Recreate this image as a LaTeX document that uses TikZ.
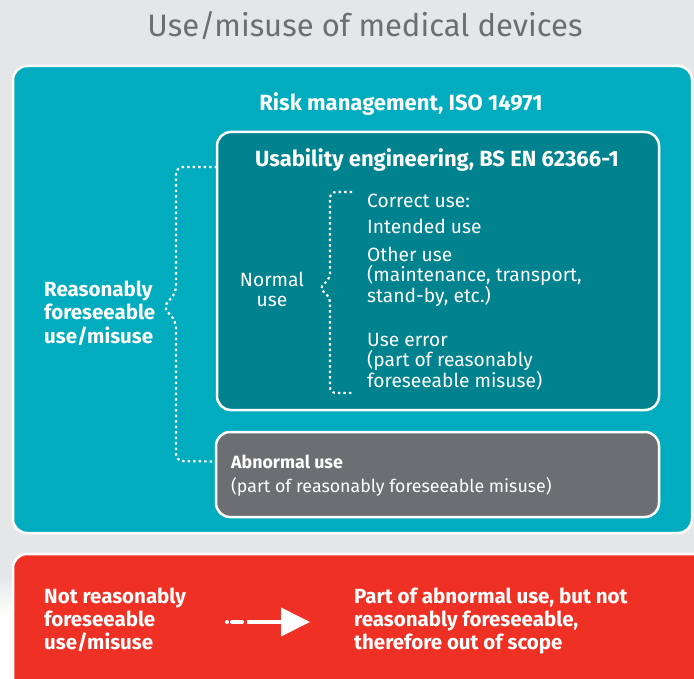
\documentclass[tikz,border=0pt]{standalone}
\usepackage{fontspec}
\setmainfont{Fira Sans}
\usetikzlibrary{arrows.meta}
\definecolor{bggray}{HTML}{E5E6E8}
\definecolor{tealA}{HTML}{00ACBD}
\definecolor{tealB}{HTML}{00838F}
\definecolor{boxgray}{HTML}{6D6E71}
\definecolor{redA}{HTML}{EE3124}
\definecolor{titlegray}{HTML}{6D6E71}
\tikzset{
  panel/.style={draw=white, line width=2.5pt, rounded corners=14pt, anchor=north west, inner sep=0pt, outer sep=0pt},
  lbl/.style={inner sep=0pt, anchor=base west, align=left, text=white, font=\fontsize{19.2}{20.5}\selectfont},
  blbl/.style={lbl, font=\fontsize{20.5}{23.3}\selectfont\bfseries},
  headlbl/.style={lbl, anchor=base, font=\fontsize{22}{24}\selectfont\bfseries},
  abnlbl/.style={lbl, font=\fontsize{17.8}{20}\selectfont},
  dotbrace/.style={draw=white, line width=2.2pt, dash pattern=on 2.5pt off 3pt, rounded corners=7pt},
}
\begin{document}
\begin{tikzpicture}[x=1pt,y=-1pt]
\useasboundingbox (0,0) rectangle (694,679);
\fill[bggray] (0,0) rectangle (694,679);
\shade[top color=bggray, bottom color=white] (0,575) rectangle (694,615);
\fill[white] (0,615) rectangle (694,679);
% title
\node[inner sep=0pt, anchor=base, text=titlegray, font=\fontsize{31}{33}\selectfont] (title) at (365,37) {Use/misuse of medical devices};
% outer teal
\node[panel, fill=tealA, minimum width=679pt, minimum height=467pt] (risk) at (13,66) {};
\node[headlbl] (risklbl) at (401,111) {Risk management, ISO 14971};
% usability box
\node[panel, fill=tealB, minimum width=442pt, minimum height=278pt] (usab) at (217,132) {};
\node[headlbl] (usablbl) at (437,167) {Usability engineering, BS EN 62366-1};
% abnormal box
\node[panel, fill=boxgray, minimum width=443pt, minimum height=85pt] (abn) at (216,432) {};
\node[abnlbl, font=\fontsize{17.8}{20}\selectfont\bfseries] (abnhead) at (231,468) {Abnormal use};
\node[abnlbl] (abnsub) at (231,492) {(part of reasonably foreseeable misuse)};
% left label (base = last line)
\node[blbl] (rfu) at (44,343) {Reasonably\\foreseeable\\use/misuse};
% normal use
\node[lbl, anchor=base, align=center] (normal) at (272,306.5) {Normal\\use};
% right list
\node[lbl] (correct) at (367,208) {Correct use:};
\node[lbl] (intended) at (367,234) {Intended use};
\node[lbl] (other) at (367,302) {Other use\\(maintenance, transport,\\stand-by, etc.)};
\node[lbl] (useerr) at (367,387) {Use error\\(part of reasonably\\foreseeable misuse)};
% left dotted brace
\draw[dotbrace] ([yshift=-35pt]usab.north west) -- ++(-41,0) -- (176,293) -- (163,307) -- (176,321) -- (176,461) -- ([yshift=13pt]abn.west);
% inner brace
\coordinate (ibtop) at (352,192);
\coordinate (ibbot) at (352,393);
\draw[dotbrace, rounded corners=6pt] (ibtop) -- (330,192) -- (330,279) -- (319,288) -- (330,297) -- (330,393) -- (ibbot);
% red panel
\node[panel, fill=redA, minimum width=700pt, minimum height=160pt] (nrf) at (13,554) {};
\node[blbl] (nrflbl) at (44,649.6) {Not reasonably\\foreseeable\\use/misuse};
\node[blbl] (outlbl) at (354,649.6) {Part of abnormal use, but not\\reasonably foreseeable,\\therefore out of scope};
\coordinate (arrstart) at (227,622);
\coordinate (arrdash) at (232,622);
\coordinate (arrline) at (247,622);
\coordinate (arrend) at (310,622);
\fill[white] (arrstart) circle (2pt);
\draw[white, line width=4pt, line cap=round] (arrdash) -- ++(10,0);
\draw[white, line width=4pt, -{Triangle[length=29pt, width=28pt]}] (arrline) -- (arrend);
\end{tikzpicture}
\end{document}
